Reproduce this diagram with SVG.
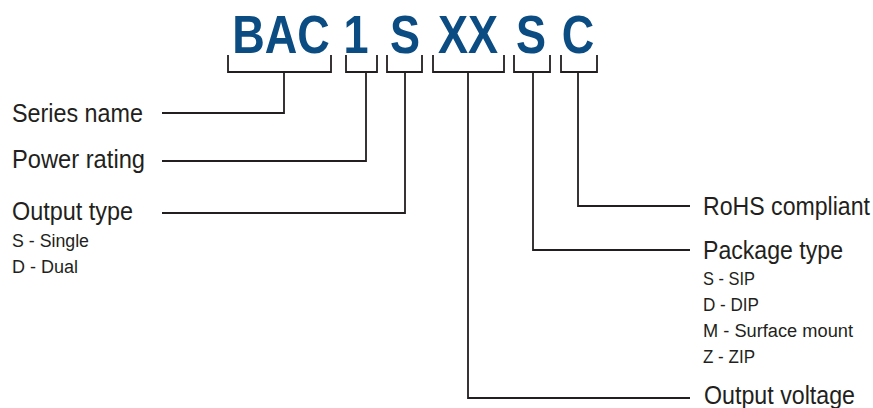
<svg xmlns="http://www.w3.org/2000/svg" width="873" height="408" viewBox="0 0 873 408">
<style>
.code{font-family:"Liberation Sans",Arial,sans-serif;font-weight:bold;font-size:53px;fill:#0b4c83;text-anchor:middle}
.lbl{font-family:"Liberation Sans",Arial,sans-serif;font-size:26px;fill:#231f20}
.sub{font-family:"Liberation Sans",Arial,sans-serif;font-size:18px;fill:#231f20}
.ln{fill:none;stroke:#231f20;stroke-width:1.8}
</style>
<rect width="873" height="408" fill="#ffffff"/>
<g id="code">
<g id="code-bac"><text class="code" transform="translate(281,53) scale(0.85,1)">BAC</text><path class="ln" d="M228,55V72H331V55"/></g>
<g id="code-1"><text class="code" transform="translate(356,53) scale(0.85,1)">1</text><path class="ln" d="M346,55V72H377V55"/></g>
<g id="code-s1"><text class="code" transform="translate(405,53) scale(0.85,1)">S</text><path class="ln" d="M387,55V72H422V55"/></g>
<g id="code-xx"><text class="code" transform="translate(468,53) scale(0.85,1)">XX</text><path class="ln" d="M433,55V72H504V55"/></g>
<g id="code-s2"><text class="code" transform="translate(531,53) scale(0.85,1)">S</text><path class="ln" d="M514,55V72H550V55"/></g>
<g id="code-c"><text class="code" transform="translate(578,53) scale(0.85,1)">C</text><path class="ln" d="M561,55V72H597V55"/></g>
</g>
<g id="connectors">
<path class="ln" d="M284,72V113H162"/>
<path class="ln" d="M366,72V161H162"/>
<path class="ln" d="M405,72V213H162"/>
<path class="ln" d="M468,72V398H690"/>
<path class="ln" d="M533,72V250H690"/>
<path class="ln" d="M578,72V206H690"/>
</g>
<g id="series-name"><text class="lbl" x="12" y="122" textLength="131" lengthAdjust="spacingAndGlyphs">Series name</text></g>
<g id="power-rating"><text class="lbl" x="12" y="168" textLength="133" lengthAdjust="spacingAndGlyphs">Power rating</text></g>
<g id="output-type">
<text class="lbl" x="12" y="220" textLength="121" lengthAdjust="spacingAndGlyphs">Output type</text>
<text class="sub" x="12" y="247" textLength="77" lengthAdjust="spacingAndGlyphs">S - Single</text>
<text class="sub" x="12" y="273" textLength="66" lengthAdjust="spacingAndGlyphs">D - Dual</text>
</g>
<g id="rohs"><text class="lbl" x="703" y="215" textLength="167" lengthAdjust="spacingAndGlyphs">RoHS compliant</text></g>
<g id="package-type">
<text class="lbl" x="703" y="259" textLength="140" lengthAdjust="spacingAndGlyphs">Package type</text>
<text class="sub" x="703" y="285" textLength="52" lengthAdjust="spacingAndGlyphs">S - SIP</text>
<text class="sub" x="703" y="311" textLength="56" lengthAdjust="spacingAndGlyphs">D - DIP</text>
<text class="sub" x="703" y="337" textLength="150" lengthAdjust="spacingAndGlyphs">M - Surface mount</text>
<text class="sub" x="703" y="363" textLength="52" lengthAdjust="spacingAndGlyphs">Z - ZIP</text>
</g>
<g id="output-voltage"><text class="lbl" x="704" y="404" textLength="151" lengthAdjust="spacingAndGlyphs">Output voltage</text></g>
</svg>
